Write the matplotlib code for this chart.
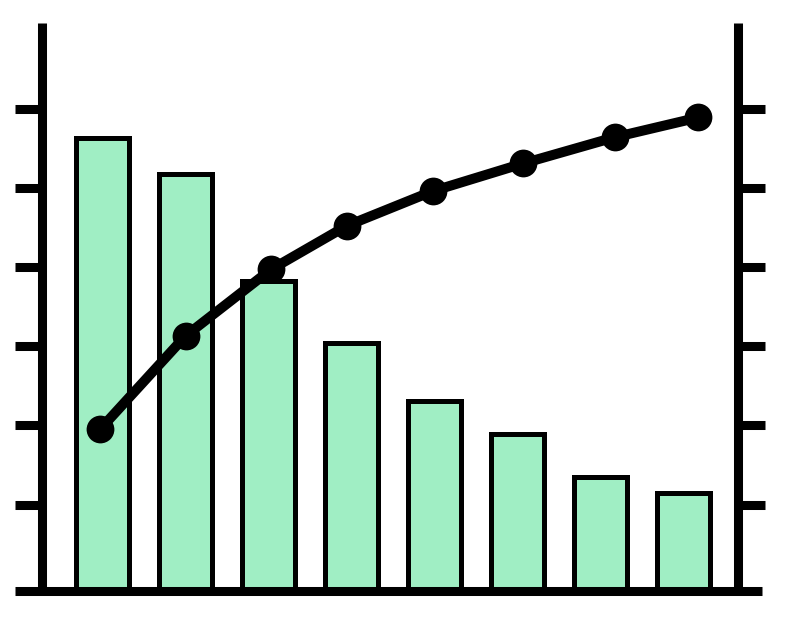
import matplotlib
matplotlib.use("Agg")
from matplotlib import pyplot as plt

# valores (barras e curva acumulada)
categorias = list(range(8))
barras = [56.3, 51.8, 38.2, 30.4, 23.1, 18.9, 13.5, 11.5]
curva_x = [-0.03, 1.00, 2.03, 2.94, 3.98, 5.07, 6.17, 7.18]
curva_y = [19.5, 31.3, 39.7, 45.2, 49.6, 53.1, 56.4, 58.9]
marcas = [10, 20, 30, 40, 50, 60]

y_min, y_max = -0.86, 70.8
x_min, x_max = -0.723, 7.653

fig = plt.figure(figsize=(7.85, 6.22), dpi=100)
ax = fig.add_axes([0.05414, 0.05064, 0.8856, 0.9119])
ax2 = ax.twinx()

alturas = [b - y_min for b in barras]
ax.bar(categorias, alturas, bottom=y_min, width=0.627, color="#A0EEC4",
       edgecolor="black", linewidth=3.6, zorder=1)

ax2.plot(curva_x, curva_y, color="black", linewidth=7.2, marker="o",
         markersize=20, markeredgewidth=0, solid_capstyle="butt")

for a in (ax, ax2):
    a.set_xlim(x_min, x_max)
    a.set_ylim(y_min, y_max)
    a.set_xticks([])
    a.set_yticks(marcas)
    a.set_yticklabels([])
    a.tick_params(axis="y", direction="out", length=19.5, width=6.5, color="black")
    for s in a.spines.values():
        s.set_visible(False)
        s.set_linewidth(6.5)
        s.set_capstyle("butt")

ax.spines["left"].set_visible(True)
ax2.spines["right"].set_visible(True)
ax.patch.set_visible(False)

# linha da base, passando um pouco além dos eixos
ax.axhline(y_min, xmin=-0.0396, xmax=1.035, color="black", linewidth=6.5,
           clip_on=False, solid_capstyle="butt", zorder=3)

fig.savefig("out.png", dpi=100, facecolor="white")
